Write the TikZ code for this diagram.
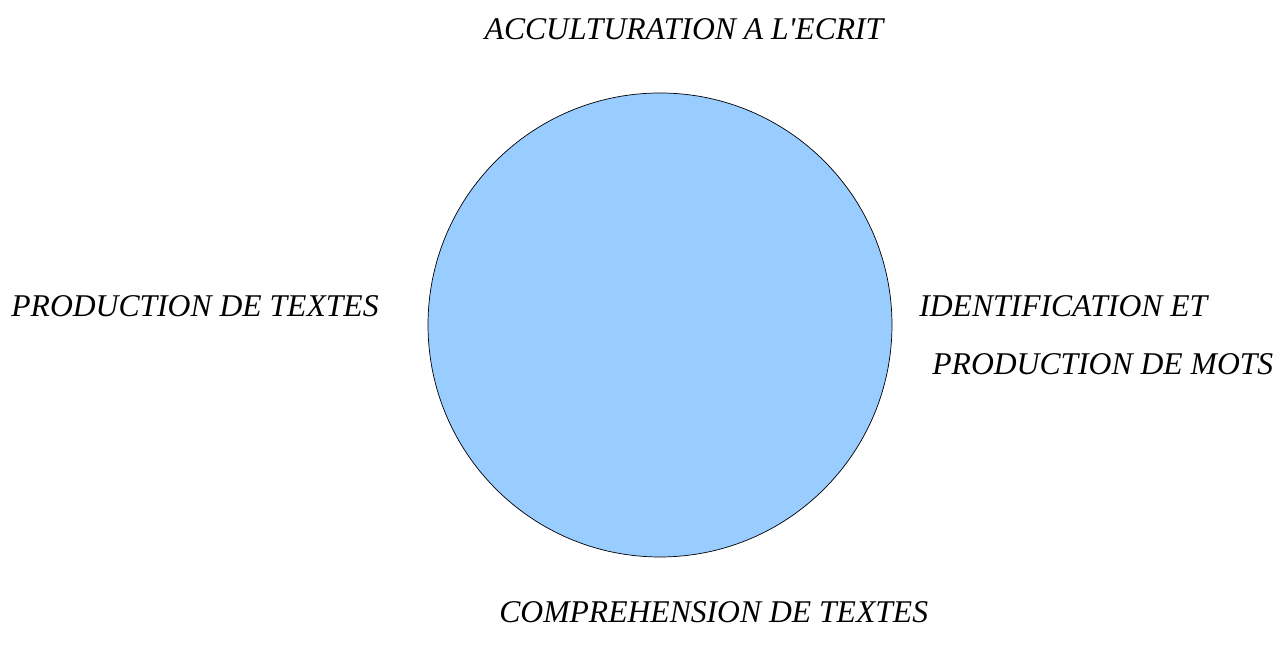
\documentclass[tikz,border=0pt]{standalone}
\usepackage{fontspec}
\setmainfont{Liberation Serif}
\definecolor{bleuclair}{HTML}{99CCFF}
\begin{document}
\begin{tikzpicture}[
    etiquette/.style={inner sep=0pt,font=\fontsize{18}{22}\selectfont\itshape}]
    \useasboundingbox (0,0) rectangle (25.74,13);
    \node[circle,draw=black,fill=bleuclair,minimum size=9.28cm,inner sep=0pt] (cercle) at (13.2,6.5) {};
	\node[etiquette,anchor=base] (acc) at (13.68,12.2) {ACCULTURATION A L\textquotesingle ECRIT};
	\node[etiquette,anchor=base west] (prodtxt) at (0.22,6.66) {PRODUCTION DE TEXTES};
	\node[etiquette,anchor=base west] (ident) at (18.38,6.66) {IDENTIFICATION ET};
	\node[etiquette,anchor=base west] (prodmots) at (18.64,5.5) {PRODUCTION DE MOTS};
	\node[etiquette,anchor=base west] (comp) at (9.98,0.54) {COMPREHENSION DE TEXTES};
\end{tikzpicture}
\end{document}
